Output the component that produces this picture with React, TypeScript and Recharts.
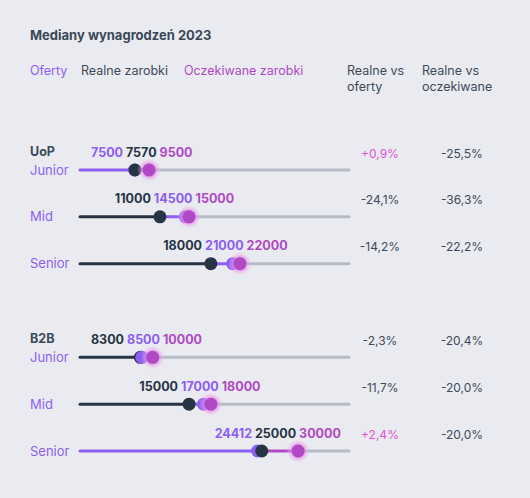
import { ReferenceLine, Scatter, ScatterChart, XAxis, YAxis } from "recharts";

const DARK = "#263445";
const PURPLE = "#8d5ef2";
const MAGENTA = "#b04ac4";
const TRACK = "#b6bcc5";
const TEXT = "#3d4959";
const PINK = "#e253d8";

// row positions (3 = gap between UoP and B2B)
const ROWS = [0, 1, 2, 4, 5, 6];
const LEVELS = ["Junior", "Mid", "Senior", "Junior", "Mid", "Senior"];
const GROUPS = ["UoP", "", "", "B2B", "", ""];

const OFERTY = [7500, 14500, 21000, 8500, 17000, 24412];
const REALNE = [7570, 11000, 18000, 8300, 15000, 25000];
const OCZEKIWANE = [9500, 15000, 22000, 10000, 18000, 30000];

const VS_OFERTY = ["+0,9%", "-24,1%", "-14,2%", "-2,3%", "-11,7%", "+2,4%"];
const VS_OCZEKIWANE = ["-25,5%", "-36,3%", "-22,2%", "-20,4%", "-20,0%", "-20,0%"];

const X_MAX = 37000;

const KINDS = [
  { key: "oferty", color: PURPLE, values: OFERTY },
  { key: "realne", color: DARK, values: REALNE },
  { key: "oczekiwane", color: MAGENTA, values: OCZEKIWANE },
];

type Point = { x: number; y: number; kind: string; color: string };

const rowPoints: Point[][] = ROWS.map((row, i) =>
  KINDS.map((k) => ({ x: k.values[i], y: row, kind: k.key, color: k.color })).sort(
    (a, b) => a.x - b.x
  )
);

const markers = rowPoints.flat();

const labels = rowPoints.map((pts) => ({
  x: (pts[0].x + pts[2].x) / 2,
  y: pts[0].y,
  items: pts,
}));

const segments = rowPoints.flatMap((pts) => {
  const row = pts[0].y;
  const out = [];
  let start = 0;
  pts.forEach((p) => {
    out.push({ from: start, to: p.x, row, color: p.color });
    start = p.x;
  });
  out.push({ from: start, to: X_MAX, row, color: TRACK });
  return out;
});

const FONT = "Inter, 'Noto Sans', sans-serif";

function Marker(props: any) {
  const { cx, cy, payload } = props;
  if (payload.kind === "oczekiwane") {
    return (
      <g>
        <circle cx={cx} cy={cy} r={12} fill="url(#glow)" />
        <circle cx={cx} cy={cy} r={6.5} fill={MAGENTA} />
      </g>
    );
  }
  return <circle cx={cx} cy={cy} r={6.5} fill={payload.color} />;
}

function ValueLabel(props: any) {
  const { cx, cy, payload } = props;
  return (
    <text
      x={cx}
      y={cy - 13.5}
      textAnchor="middle"
      fontFamily={FONT}
      fontSize={12.5}
      fontWeight={700}
    >
      {payload.items.map((p: Point, i: number) => (
        <tspan key={i} fill={p.color}>
          {(i > 0 ? " " : "") + p.x}
        </tspan>
      ))}
    </text>
  );
}

function LevelTick(props: any) {
  const { x, y, payload } = props;
  const i = ROWS.indexOf(payload.value);
  return (
    <g fontFamily={FONT}>
      {GROUPS[i] && (
        <text x={x - 50} y={y - 14} fontSize={12.5} fontWeight={700} fill={TEXT}>
          {GROUPS[i]}
        </text>
      )}
      <text x={x - 50} y={y + 4.5} fontSize={13} fill={PURPLE}>
        {LEVELS[i]}
      </text>
    </g>
  );
}

function PercentTick(props: any) {
  const { x, y, payload } = props;
  const i = ROWS.indexOf(payload.value);
  const a = VS_OFERTY[i];
  const b = VS_OCZEKIWANE[i];
  return (
    <g fontFamily={FONT} fontSize={12} textAnchor="middle">
      <text x={x + 31} y={y - 12.5} fill={a.startsWith("+") ? PINK : TEXT}>
        {a}
      </text>
      <text x={x + 113} y={y - 12.5} fill={b.startsWith("+") ? PINK : TEXT}>
        {b}
      </text>
    </g>
  );
}

export default function App() {
  return (
    <div
      style={{
        position: "relative",
        width: 530,
        height: 498,
        background: "#eaebf0",
        fontFamily: FONT,
        color: TEXT,
      }}
    >
      <style>{`body{margin:0}`}</style>
      <svg width={0} height={0} style={{ position: "absolute" }}>
        <defs>
          <radialGradient id="glow">
            <stop offset="45%" stopColor="#e27ee6" stopOpacity={0.9} />
            <stop offset="100%" stopColor="#f2c2f2" stopOpacity={0} />
          </radialGradient>
        </defs>
      </svg>

      <div
        style={{
          position: "absolute",
          left: 30,
          top: 27,
          fontSize: 13,
          lineHeight: "16px",
          fontWeight: 700,
          color: "#3a4759",
        }}
      >
        Mediany wynagrodzeń 2023
      </div>
      <div style={{ position: "absolute", left: 30, top: 63, fontSize: 12.5, lineHeight: "16px", color: PURPLE }}>
        Oferty
      </div>
      <div style={{ position: "absolute", left: 81, top: 63, fontSize: 12.5, lineHeight: "16px" }}>
        Realne zarobki
      </div>
      <div style={{ position: "absolute", left: 184, top: 63, fontSize: 12.5, lineHeight: "16px", color: MAGENTA }}>
        Oczekiwane zarobki
      </div>
      <div style={{ position: "absolute", left: 347, top: 63, fontSize: 12.5, lineHeight: "16px" }}>
        Realne vs
        <br />
        oferty
      </div>
      <div style={{ position: "absolute", left: 422, top: 63, fontSize: 12.5, lineHeight: "16px" }}>
        Realne vs
        <br />
        oczekiwane
      </div>

      <ScatterChart
        width={530}
        height={498}
        margin={{ top: 170, right: 0, bottom: 47, left: 0 }}
        style={{ position: "absolute", left: 0, top: 0 }}
      >
        <XAxis type="number" dataKey="x" domain={[0, X_MAX]} hide />
        <YAxis
          yAxisId="left"
          type="number"
          dataKey="y"
          domain={[0, 6]}
          reversed
          ticks={ROWS}
          width={80}
          axisLine={false}
          tickLine={false}
          tickSize={0}
          tickMargin={0}
          tick={<LevelTick />}
        />
        <YAxis
          yAxisId="right"
          orientation="right"
          type="number"
          dataKey="y"
          domain={[0, 6]}
          reversed
          ticks={ROWS}
          width={181}
          axisLine={false}
          tickLine={false}
          tickSize={0}
          tickMargin={0}
          tick={<PercentTick />}
        />
        {segments.map((s, i) => (
          <ReferenceLine
            key={i}
            yAxisId="left"
            segment={[
              { x: s.from, y: s.row },
              { x: s.to, y: s.row },
            ]}
            stroke={s.color}
            strokeWidth={3}
            strokeLinecap="round"
            ifOverflow="visible"
          />
        ))}
        <Scatter
          yAxisId="left"
          data={markers}
          shape={<Marker />}
          isAnimationActive={false}
        />
        <Scatter
          yAxisId="right"
          data={labels}
          shape={<ValueLabel />}
          isAnimationActive={false}
        />
      </ScatterChart>
    </div>
  );
}
